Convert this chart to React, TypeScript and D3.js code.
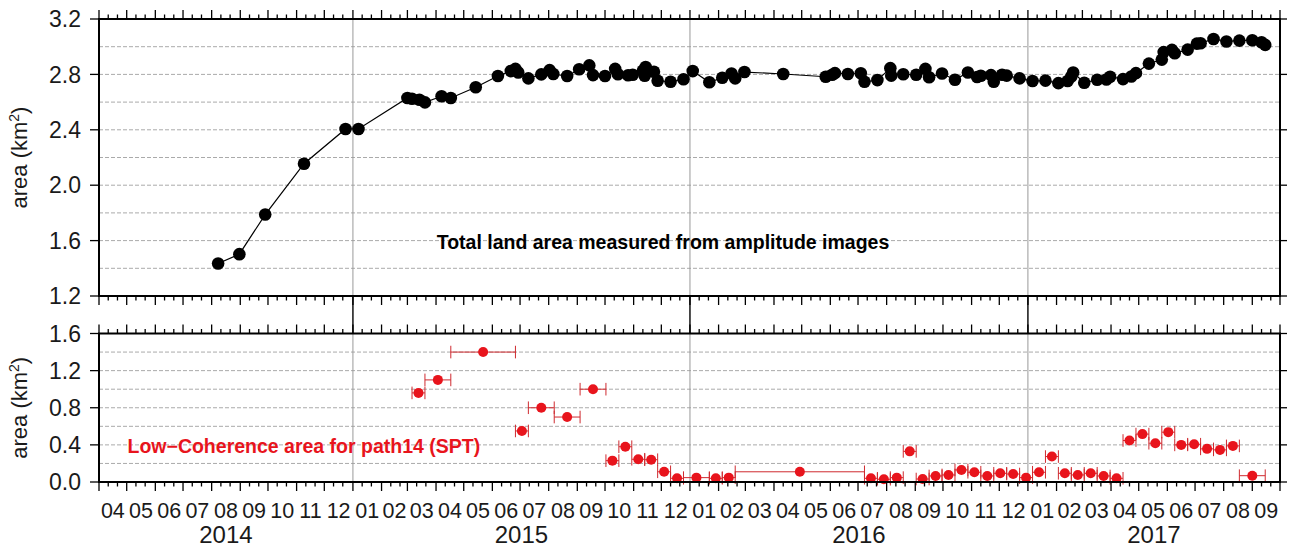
import React from "react";
import * as d3 from "d3";

const parse = d3.utcParse("%Y-%m-%d");

// Total land area (km²) measured from amplitude images
const landDates = [
  "2014-08-08", "2014-08-31", "2014-09-28", "2014-11-09", "2014-12-24", "2015-01-07",
  "2015-03-01", "2015-03-06", "2015-03-14", "2015-03-20", "2015-04-07", "2015-04-17",
  "2015-05-14", "2015-06-07", "2015-06-21", "2015-06-26", "2015-06-29", "2015-07-10",
  "2015-07-24", "2015-08-02", "2015-08-06", "2015-08-21", "2015-09-03", "2015-09-14",
  "2015-09-18", "2015-10-01", "2015-10-12", "2015-10-15", "2015-10-26", "2015-10-31",
  "2015-11-11", "2015-11-13", "2015-11-14", "2015-11-23", "2015-11-27", "2015-12-11",
  "2015-12-25", "2016-01-04", "2016-01-22", "2016-02-05", "2016-02-15", "2016-02-19",
  "2016-02-29", "2016-04-11", "2016-05-27", "2016-06-03", "2016-06-06", "2016-06-20",
  "2016-07-04", "2016-07-08", "2016-07-22", "2016-08-05", "2016-08-06", "2016-08-19",
  "2016-09-02", "2016-09-12", "2016-09-16", "2016-09-30", "2016-10-14", "2016-10-28",
  "2016-11-07", "2016-11-11", "2016-11-22", "2016-11-25", "2016-12-04", "2016-12-09",
  "2016-12-23", "2017-01-06", "2017-01-20", "2017-02-03", "2017-02-13", "2017-02-17",
  "2017-02-19", "2017-03-03", "2017-03-17", "2017-03-27", "2017-03-31", "2017-04-14",
  "2017-04-23", "2017-04-28", "2017-05-12", "2017-05-26", "2017-05-28", "2017-06-06",
  "2017-06-09", "2017-06-23", "2017-07-03", "2017-07-07", "2017-07-21", "2017-08-04",
  "2017-08-18", "2017-09-01", "2017-09-11", "2017-09-15",
];
const landArea = [
  1.435, 1.502, 1.788, 2.155, 2.406, 2.406,
  2.630, 2.624, 2.617, 2.598, 2.642, 2.630,
  2.707, 2.788, 2.824, 2.840, 2.814, 2.771,
  2.800, 2.831, 2.803, 2.788, 2.837, 2.865,
  2.795, 2.788, 2.840, 2.801, 2.794, 2.797,
  2.826, 2.790, 2.853, 2.819, 2.754, 2.747,
  2.765, 2.824, 2.743, 2.776, 2.806, 2.771,
  2.817, 2.803, 2.783, 2.797, 2.809, 2.803,
  2.808, 2.747, 2.759, 2.845, 2.791, 2.801,
  2.797, 2.840, 2.779, 2.806, 2.761, 2.814,
  2.781, 2.790, 2.795, 2.747, 2.797, 2.791,
  2.771, 2.752, 2.755, 2.737, 2.752, 2.785,
  2.814, 2.740, 2.761, 2.763, 2.783, 2.766,
  2.785, 2.809, 2.878, 2.907, 2.961, 2.977,
  2.953, 2.979, 3.022, 3.025, 3.056, 3.038,
  3.044, 3.047, 3.032, 3.013,
];

// Low-coherence area for path14 (SPT): interferometric pair start / end, area (km²)
const lcStart = [
  "2015-03-06", "2015-03-20", "2015-04-17", "2015-06-26", "2015-07-10", "2015-08-07",
  "2015-09-04", "2015-10-02", "2015-10-16", "2015-10-30", "2015-11-13", "2015-11-27",
  "2015-12-11", "2015-12-25", "2016-01-22", "2016-02-05", "2016-02-19", "2016-07-08",
  "2016-07-22", "2016-08-05", "2016-08-19", "2016-09-02", "2016-09-16", "2016-09-30",
  "2016-10-14", "2016-10-28", "2016-11-11", "2016-11-25", "2016-12-09", "2016-12-23",
  "2017-01-06", "2017-01-20", "2017-02-03", "2017-02-17", "2017-03-03", "2017-03-17",
  "2017-03-31", "2017-04-14", "2017-04-28", "2017-05-12", "2017-05-26", "2017-06-09",
  "2017-06-23", "2017-07-07", "2017-07-21", "2017-08-04", "2017-08-18",
];
const lcEnd = [
  "2015-03-20", "2015-04-17", "2015-06-26", "2015-07-10", "2015-08-07", "2015-09-04",
  "2015-10-02", "2015-10-16", "2015-10-30", "2015-11-13", "2015-11-27", "2015-12-11",
  "2015-12-25", "2016-01-22", "2016-02-05", "2016-02-19", "2016-07-08", "2016-07-22",
  "2016-08-05", "2016-08-19", "2016-09-02", "2016-09-16", "2016-09-30", "2016-10-14",
  "2016-10-28", "2016-11-11", "2016-11-25", "2016-12-09", "2016-12-23", "2017-01-06",
  "2017-01-20", "2017-02-03", "2017-02-17", "2017-03-03", "2017-03-17", "2017-03-31",
  "2017-04-14", "2017-04-28", "2017-05-12", "2017-05-26", "2017-06-09", "2017-06-23",
  "2017-07-07", "2017-07-21", "2017-08-04", "2017-08-18", "2017-09-15",
];
const lcArea = [
  0.96, 1.10, 1.40, 0.55, 0.80, 0.70,
  1.00, 0.23, 0.38, 0.245, 0.24, 0.11,
  0.04, 0.047, 0.04, 0.047, 0.11, 0.04,
  0.03, 0.047, 0.33, 0.032, 0.065, 0.076,
  0.13, 0.105, 0.065, 0.094, 0.086, 0.047,
  0.105, 0.274, 0.094, 0.076, 0.094, 0.065,
  0.04, 0.447, 0.516, 0.418, 0.537, 0.40,
  0.407, 0.357, 0.346, 0.389, 0.068,
];

const topTicks = [1.2, 1.6, 2.0, 2.4, 2.8, 3.2];
const topGrid = [1.4, 1.6, 1.8, 2.0, 2.2, 2.4, 2.6, 2.8, 3.0];
const botTicks = [0.0, 0.4, 0.8, 1.2, 1.6];
const botGrid = [0.2, 0.4, 0.6, 0.8, 1.0, 1.2, 1.4];
const yearLabels = ["2014", "2015", "2016", "2017"];
const xStart = "2014-04-01";
const xEnd = "2017-10-01";

const FONT = "'Liberation Sans', Arial, Helvetica, sans-serif";
const RED = "#e8141c";
const BAR = "#cf2a2f";

export default function App() {
  const L = 99, R = 1280;
  const T1 = 19, B1 = 296;
  const T2 = 333.5, B2 = 482;
  const x = d3.scaleUtc().domain([parse(xStart)!, parse(xEnd)!]).range([L, R]);
  const y1 = d3.scaleLinear().domain([1.2, 3.2]).range([B1, T1]);
  const y2 = d3.scaleLinear().domain([0, 1.6]).range([B2, T2]);

  const land = landDates.map((d, i) => ({ date: parse(d)!, v: landArea[i] }));
  const lc = lcStart.map((s, i) => {
    const a = parse(s)!, b = parse(lcEnd[i])!;
    return { a, b, mid: new Date((a.getTime() + b.getTime()) / 2), v: lcArea[i] };
  });

  const months = d3.utcMonth.range(parse(xStart)!, d3.utcDay.offset(parse(xEnd)!, 1));
  const minors: Date[] = [];
  months.forEach((m) => {
    [10, 20].forEach((k) => {
      const d = d3.utcDay.offset(m, k);
      if (d < parse(xEnd)!) minors.push(d);
    });
  });
  const years = d3.utcYear.range(parse(xStart)!, parse(xEnd)!).filter((d) => d > parse(xStart)!);
  const monthFmt = d3.utcFormat("%m");
  const monthMid = months.slice(0, -1).map((m, i) => ({
    label: monthFmt(m),
    cx: (x(m) + x(months[i + 1])) / 2,
  }));
  const yearSpans = yearLabels.map((yl) => {
    const a = Math.max(x(parse(`${yl}-01-01`)!), L);
    const b = Math.min(x(parse(`${+yl + 1}-01-01`)!), R);
    return { label: yl, cx: (a + b) / 2 };
  });

  const line = d3.line<{ date: Date; v: number }>().x((d) => x(d.date)).y((d) => y1(d.v));

  const MAJ = 9, MIN = 4.5;
  const tickStyle = { stroke: "#000", strokeWidth: 1.3 };

  const xTicks = (yEdge: number, dir: number, key: string) => (
    <g key={key}>
      {months.map((m, i) => (
        <line key={"M" + i} x1={x(m)} x2={x(m)} y1={yEdge} y2={yEdge + dir * MAJ} {...tickStyle} />
      ))}
      {minors.map((m, i) => (
        <line key={"m" + i} x1={x(m)} x2={x(m)} y1={yEdge} y2={yEdge + dir * MIN} {...tickStyle} />
      ))}
    </g>
  );

  return (
    <svg
      width={1289}
      height={550}
      style={{ position: "absolute", left: 0, top: 0, background: "#fff" }}
      fontFamily={FONT}
    >
      <rect x={0} y={0} width={1289} height={550} fill="#fff" />
      {/* grid lines */}
      {topGrid.map((g) => (
        <line key={"tg" + g} x1={L} x2={R} y1={y1(g)} y2={y1(g)} stroke="#aaa" strokeWidth={1} strokeDasharray="4,2" />
      ))}
      {botGrid.map((g) => (
        <line key={"bg" + g} x1={L} x2={R} y1={y2(g)} y2={y2(g)} stroke="#aaa" strokeWidth={1} strokeDasharray="4,2" />
      ))}
      {years.map((yr, i) => (
        <g key={"yl" + i}>
          <line x1={x(yr)} x2={x(yr)} y1={T1} y2={B1} stroke="#999" strokeWidth={1} />
          <line x1={x(yr)} x2={x(yr)} y1={T2} y2={B2} stroke="#999" strokeWidth={1} />
          <line x1={x(yr)} x2={x(yr)} y1={B1} y2={T2} stroke="#000" strokeWidth={1.4} />
        </g>
      ))}

      {/* top series */}
      <path d={line(land) || ""} fill="none" stroke="#000" strokeWidth={1.2} />
      {land.map((d, i) => (
        <circle key={"p" + i} cx={x(d.date)} cy={y1(d.v)} r={6.3} fill="#000" />
      ))}

      {/* bottom series */}
      {lc.map((d, i) => (
        <g key={"e" + i}>
          <line x1={x(d.a)} x2={x(d.b)} y1={y2(d.v)} y2={y2(d.v)} stroke={BAR} strokeWidth={1} />
          <line x1={x(d.a)} x2={x(d.a)} y1={y2(d.v) - 6.3} y2={y2(d.v) + 6.3} stroke={BAR} strokeWidth={1} />
          <line x1={x(d.b)} x2={x(d.b)} y1={y2(d.v) - 6.3} y2={y2(d.v) + 6.3} stroke={BAR} strokeWidth={1} />
        </g>
      ))}
      {lc.map((d, i) => (
        <circle key={"q" + i} cx={x(d.mid)} cy={y2(d.v)} r={5} fill={RED} />
      ))}

      {/* frames */}
      <rect x={L} y={T1} width={R - L} height={B1 - T1} fill="none" stroke="#000" strokeWidth={2} />
      <rect x={L} y={T2} width={R - L} height={B2 - T2} fill="none" stroke="#000" strokeWidth={2} />

      {/* x ticks */}
      {xTicks(T1, -1, "t1")}
      {xTicks(B1, 1, "b1")}
      {xTicks(T2, -1, "t2")}
      {xTicks(B2, 1, "b2")}

      {/* y ticks top */}
      {topTicks.map((t) => (
        <g key={"yt" + t}>
          <line x1={L - 9} x2={L} y1={y1(t)} y2={y1(t)} {...tickStyle} />
          <line x1={R} x2={R + 7} y1={y1(t)} y2={y1(t)} {...tickStyle} />
          <text x={81} y={y1(t)} dy="0.36em" textAnchor="end" fontSize={23} fill="#1a1a1a">
            {t.toFixed(1)}
          </text>
        </g>
      ))}
      {botTicks.map((t) => (
        <g key={"yb" + t}>
          <line x1={L - 9} x2={L} y1={y2(t)} y2={y2(t)} {...tickStyle} />
          <line x1={R} x2={R + 7} y1={y2(t)} y2={y2(t)} {...tickStyle} />
          <text x={81} y={y2(t)} dy="0.36em" textAnchor="end" fontSize={23} fill="#1a1a1a">
            {t.toFixed(1)}
          </text>
        </g>
      ))}

      {/* month / year labels */}
      {monthMid.map((m, i) => (
        <text key={"ml" + i} x={m.cx} y={518} textAnchor="middle" fontSize={21.5} fill="#1a1a1a">
          {m.label}
        </text>
      ))}
      {yearSpans.map((s) => (
        <text key={"yr" + s.label} x={s.cx} y={543} textAnchor="middle" fontSize={24} fill="#1a1a1a">
          {s.label}
        </text>
      ))}

      {/* axis titles */}
      {[(T1 + B1) / 2, (T2 + B2) / 2].map((cy, i) => (
        <text
          key={"at" + i}
          transform={`translate(27,${cy}) rotate(-90)`}
          textAnchor="middle"
          fontSize={22}
          fill="#1a1a1a"
        >
          area (km<tspan dy="-8" fontSize={14}>2</tspan>
          <tspan dy="8">)</tspan>
        </text>
      ))}

      {/* annotations */}
      <text x={663} y={249} textAnchor="middle" fontSize={19.5} fontWeight="bold" fill="#000">
        Total land area measured from amplitude images
      </text>
      <text x={127.5} y={453} textAnchor="start" fontSize={19.5} fontWeight="bold" fill={RED}>
        Low−Coherence area for path14 (SPT)
      </text>
    </svg>
  );
}
